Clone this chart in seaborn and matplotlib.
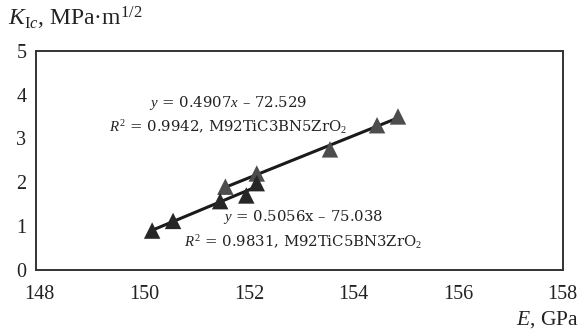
import matplotlib
matplotlib.use("Agg")
import matplotlib.pyplot as plt
import seaborn as sns
import pandas as pd

# data
e_c3bn5 = [151.55, 152.15, 153.55, 154.45, 154.85]
k_c3bn5 = [1.9, 2.2, 2.75, 3.3, 3.5]
e_c5bn3 = [150.15, 150.55, 151.45, 151.95, 152.15]
k_c5bn3 = [0.9, 1.12, 1.57, 1.7, 1.98]
x_ticks = [148, 150, 152, 154, 156, 158]
y_ticks = [0, 1, 2, 3, 4, 5]

sns.set_style("white")
plt.rcParams['font.family'] = ['Liberation Serif', 'DejaVu Serif']
plt.rcParams['mathtext.fontset'] = 'custom'
plt.rcParams['mathtext.rm'] = 'Liberation Serif'
plt.rcParams['mathtext.it'] = 'Liberation Serif:italic'

df1 = pd.DataFrame({"E": e_c3bn5, "K": k_c3bn5})
df2 = pd.DataFrame({"E": e_c5bn3, "K": k_c5bn3})

fig = plt.figure(figsize=(5.82, 3.33), dpi=100)
ax = fig.add_axes([0.0619, 0.189, 0.905, 0.659])

line_kw = dict(color="#1a1a1a", lw=2.2)
sns.regplot(data=df1, x="E", y="K", ax=ax, scatter=False, ci=None, truncate=True, line_kws=line_kw)
sns.regplot(data=df2, x="E", y="K", ax=ax, scatter=False, ci=None, truncate=True, line_kws=line_kw)
sns.scatterplot(data=df1, x="E", y="K", ax=ax, marker="^", s=140, color="#4d4d4d", edgecolor="none", zorder=3)
sns.scatterplot(data=df2, x="E", y="K", ax=ax, marker="^", s=140, color="#262626", edgecolor="none", zorder=3)

ax.set_xlim(147.93, 158)
ax.set_ylim(0, 5)
ax.set_xticks(x_ticks)
ax.set_yticks(y_ticks)
ax.set_xlabel("")
ax.set_ylabel("")
ax.tick_params(axis="both", which="major", direction="out", length=4, width=1,
               color="#888888", labelsize=14.5, labelcolor="#222222")
ax.tick_params(axis="x", pad=7)
ax.tick_params(axis="y", pad=3)
for s in ax.spines.values():
    s.set_color("#333333")
    s.set_linewidth(1.4)

tfont = dict(fontsize=10.7, color="#222222", family=['DejaVu Serif'])
ax.text(151.60, 3.80, r"$y$ = 0.4907$x$ – 72.529", ha="center", va="center", **tfont)
ax.text(151.60, 3.26, r"$R^2$ = 0.9942, M92TiC3BN5ZrO$_2$", ha="center", va="center", **tfont)
ax.text(153.04, 1.20, r"$y$ = 0.5056x – 75.038", ha="center", va="center", **tfont)
ax.text(153.04, 0.64, r"$R^2$ = 0.9831, M92TiC5BN3ZrO$_2$", ha="center", va="center", **tfont)

fig.text(0.014, 0.945, r"$K_{\mathrm{I}c}$, MPa·m$^{1/2}$", fontsize=17, color="#222222", va="center", ha="left")
fig.text(0.995, 0.04, r"$E$, GPa", fontsize=15.5, color="#222222", va="center", ha="right")

fig.savefig("out.png", dpi=100)
